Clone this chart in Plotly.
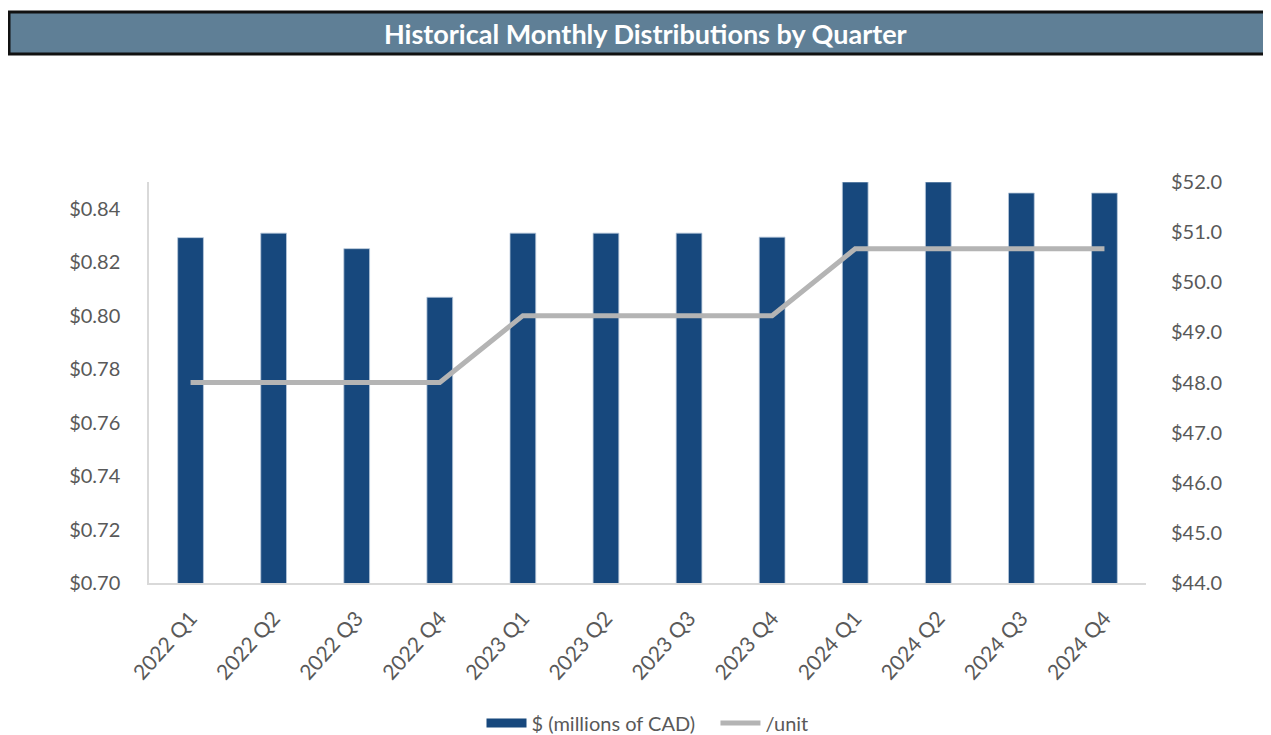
import plotly.graph_objects as go

categories = ["2022 Q1", "2022 Q2", "2022 Q3", "2022 Q4",
              "2023 Q1", "2023 Q2", "2023 Q3", "2023 Q4",
              "2024 Q1", "2024 Q2", "2024 Q3", "2024 Q4"]
millions_cad = [50.89, 50.98, 50.67, 49.70,
                50.98, 50.98, 50.98, 50.90,
                52.00, 52.00, 51.78, 51.78]
per_unit = [0.775, 0.775, 0.775, 0.775,
            0.800, 0.800, 0.800, 0.800,
            0.825, 0.825, 0.825, 0.825]
left_ticks = [0.70, 0.72, 0.74, 0.76, 0.78, 0.80, 0.82, 0.84]
right_ticks = [44.0, 45.0, 46.0, 47.0, 48.0, 49.0, 50.0, 51.0, 52.0]

# page body has an 8px margin; work in reference pixel coordinates and shift
OFF = 8
W, H = 1271 - OFF, 735 - OFF
PLOT_L, PLOT_R, PLOT_T, PLOT_B = 149, 1146, 182, 583   # reference pixels
L = PLOT_L - OFF
T = PLOT_T - OFF
R = W - (PLOT_R - OFF)
B = H - (PLOT_B - OFF)
PW, PH = PLOT_R - PLOT_L, PLOT_B - PLOT_T

def px_x(x):
    return (x - PLOT_L) / PW

def px_y(y):
    return (PLOT_B - y) / PH

TICK_FONT = dict(family="Lato", size=20, color="#595959")
AXIS_COLOR = "#D9D9D9"
BAR_COLOR = "#17487D"
LINE_COLOR = "#B4B4B4"

fig = go.Figure()
fig.add_trace(go.Bar(
    x=categories, y=millions_cad, name="$ (millions of CAD)",
    marker=dict(color=BAR_COLOR, line=dict(color="#B8C8DA", width=0.8)),
    yaxis="y", showlegend=False,
))
fig.add_trace(go.Scatter(
    x=categories, y=per_unit, name="/unit", mode="lines",
    line=dict(color=LINE_COLOR, width=5),
    yaxis="y2", showlegend=False,
))
# legend entries (Excel-style wide swatches)
fig.add_trace(go.Scatter(
    x=[None], y=[None], name="$ (millions of CAD)\u00a0\u00a0\u00a0", mode="lines",
    line=dict(color=BAR_COLOR, width=9), yaxis="y2",
))
fig.add_trace(go.Scatter(
    x=[None], y=[None], name="/unit", mode="lines",
    line=dict(color=LINE_COLOR, width=5), yaxis="y2",
))

fig.update_layout(
    width=W, height=H,
    margin=dict(l=L, r=R, t=T, b=B, autoexpand=False),
    paper_bgcolor="white", plot_bgcolor="white",
    bargap=0.69,
    showlegend=True,
    legend=dict(orientation="h", x=0.5, xanchor="center", xref="paper",
                y=px_y(723), yanchor="middle",
                font=dict(family="Lato", size=20, color="#595959"),
                itemwidth=40, tracegroupgap=0),
    xaxis=dict(type="category", tickangle=-48, tickfont=dict(TICK_FONT, size=21),
               showgrid=False, showline=True, linecolor=AXIS_COLOR, linewidth=1.5,
               ticks="", ticklabelstandoff=13, zeroline=False),
    yaxis=dict(side="right", range=[44, 52], tickvals=right_ticks,
               ticktext=[f"${v:.1f}" for v in right_ticks],
               tickfont=TICK_FONT, showgrid=False, showline=False,
               zeroline=False, ticks="", ticklabelstandoff=24),
    yaxis2=dict(side="left", overlaying="y", range=[0.70, 0.85],
                tickvals=left_ticks,
                ticktext=[f"${v:.2f}" for v in left_ticks],
                tickfont=TICK_FONT, showgrid=False, showline=True,
                linecolor=AXIS_COLOR, linewidth=1.5,
                zeroline=False, ticks="", ticklabelstandoff=23),
    shapes=[dict(type="rect", xref="paper", yref="paper",
                 x0=px_x(9), x1=px_x(1290), y0=px_y(54), y1=px_y(12),
                 fillcolor="#5F7F96", line=dict(color="#111111", width=3),
                 layer="above")],
    annotations=[dict(text="<b>Historical Monthly Distributions by Quarter</b>",
                      xref="paper", yref="paper",
                      x=px_x(645), y=px_y(34), xanchor="center", yanchor="middle",
                      showarrow=False,
                      font=dict(family="Lato", size=27, color="white"))],
)

fig.write_html("out.html")
